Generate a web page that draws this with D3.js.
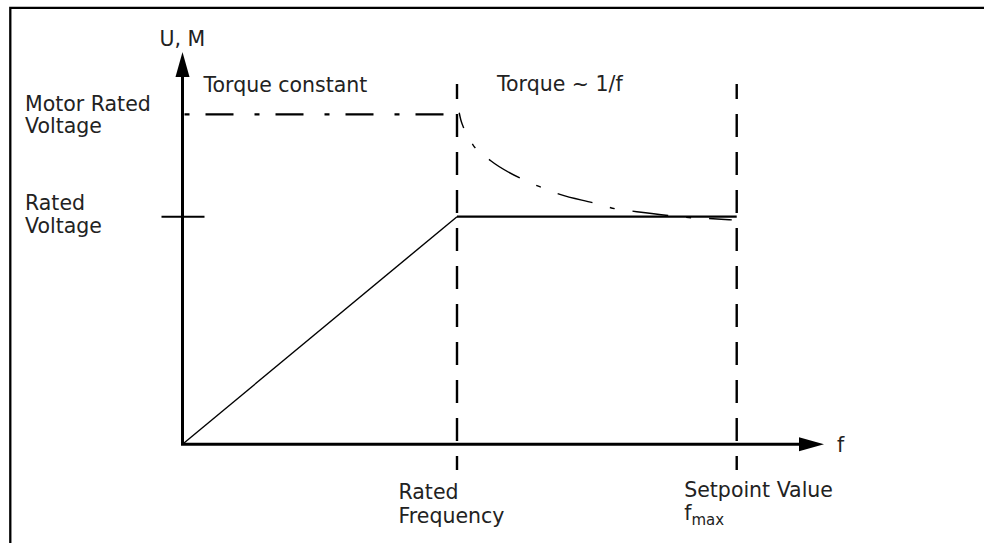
<!DOCTYPE html>
<html>
<head>
<meta charset="utf-8">
<script src="https://cdn.jsdelivr.net/npm/d3@7"></script>
<style>
  html, body { margin: 0; padding: 0; background: #fff; }
  svg { display: block; }
  text { font-family: "DejaVu Sans", sans-serif; fill: #222; }
</style>
</head>
<body>
<svg id="chart" width="984" height="543"></svg>
<script>
// Frequency in multiples of rated frequency, voltage/torque in multiples of rated voltage
const fRated = 1.0;
const fMax = 2.019;
const fAxisEnd = 2.337;
const uRated = 1.0;
const uMotorRated = 1.45;
const uAxisEnd = 1.724;
const guideSpan = [-0.113, 1.583];

// V/f characteristic: linear rise up to rated frequency, constant above
const vfCurve = [
  { f: 0, u: 0 },
  { f: fRated, u: uRated },
  { f: fMax, u: uRated }
];

// Torque characteristic in the field-weakening range (falls roughly as 1/f)
const torqueF = [1.008, 1.014, 1.025, 1.057, 1.123, 1.236, 1.305, 1.375, 1.503, 1.576, 1.655, 1.788, 1.858, 1.933, 2.001];
const torqueU = [1.457, 1.425, 1.389, 1.318, 1.246, 1.166, 1.130, 1.098, 1.059, 1.035, 1.022, 1.003, 0.995, 0.991, 0.986];

// Text labels
const axisLabelU = "U, M";
const axisLabelF = "f";
const regionLabels = ["Torque constant", "Torque ~ 1/f"];
const motorVoltageLabel = ["Motor Rated", "Voltage"];
const ratedVoltageLabel = ["Rated", "Voltage"];
const ratedFreqLabel = ["Rated", "Frequency"];
const setpointLabel = "Setpoint Value";

const svg = d3.select("#chart");

const x = d3.scaleLinear().domain([0, 1]).range([182.5, 457]);
const y = d3.scaleLinear().domain([0, 1]).range([444.2, 216.7]);

// Frame (top and left edges)
svg.append("path")
  .attr("d", `M10.3,543 V7.8 H984`)
  .attr("fill", "none").attr("stroke", "#000").attr("stroke-width", 2.3);

// Vertical guides at rated frequency and at fmax
svg.selectAll("line.guide")
  .data([fRated, fMax])
  .join("line")
  .attr("class", "guide")
  .attr("x1", d => x(d)).attr("x2", d => x(d))
  .attr("y1", y(guideSpan[1])).attr("y2", y(guideSpan[0]))
  .attr("stroke", "#000").attr("stroke-width", 2.4)
  .attr("stroke-dasharray", "23,15")
  .attr("stroke-dashoffset", 8);

// Motor rated voltage reference (dash-dot)
svg.append("line")
  .attr("x1", x(0)).attr("x2", x(fRated))
  .attr("y1", y(uMotorRated)).attr("y2", y(uMotorRated))
  .attr("stroke", "#000").attr("stroke-width", 2.4)
  .attr("stroke-dasharray", "28,21,5,16")
  .attr("stroke-dashoffset", 47);

// Torque curve (dash-dot, thin)
const torqueData = torqueF.map((f, i) => ({ f, u: torqueU[i] }));
svg.append("path")
  .datum(torqueData)
  .attr("d", d3.line().x(d => x(d.f)).y(d => y(d.u)).curve(d3.curveMonotoneX))
  .attr("fill", "none").attr("stroke", "#000").attr("stroke-width", 1.4)
  .attr("stroke-dasharray", "36,18,5,18")
  .attr("stroke-dashoffset", 20);

// V/f characteristic: thin ramp, heavier flat part
svg.append("line")
  .attr("x1", x(vfCurve[0].f)).attr("y1", y(vfCurve[0].u))
  .attr("x2", x(vfCurve[1].f)).attr("y2", y(vfCurve[1].u))
  .attr("stroke", "#000").attr("stroke-width", 1.4);
svg.append("line")
  .attr("x1", x(vfCurve[1].f)).attr("y1", y(vfCurve[1].u))
  .attr("x2", x(vfCurve[2].f)).attr("y2", y(vfCurve[2].u))
  .attr("stroke", "#000").attr("stroke-width", 2.3);

// Axes with arrowheads
svg.append("line")
  .attr("x1", x(0)).attr("y1", y(0)).attr("x2", x(0)).attr("y2", y(uAxisEnd) + 20)
  .attr("stroke", "#000").attr("stroke-width", 3);
svg.append("line")
  .attr("x1", x(0) - 1.5).attr("y1", y(0)).attr("x2", x(fAxisEnd) - 20).attr("y2", y(0))
  .attr("stroke", "#000").attr("stroke-width", 3);
svg.append("path")
  .attr("d", `M${x(0)},${y(uAxisEnd)} L${x(0) + 7},${y(uAxisEnd) + 25} L${x(0) - 7},${y(uAxisEnd) + 25} Z`)
  .attr("fill", "#000");
svg.append("path")
  .attr("d", `M${x(fAxisEnd)},${y(0)} L${x(fAxisEnd) - 25},${y(0) - 7} L${x(fAxisEnd) - 25},${y(0) + 7} Z`)
  .attr("fill", "#000");

// Rated voltage tick across the U axis
svg.append("line")
  .attr("x1", x(0) - 21).attr("x2", x(0) + 22)
  .attr("y1", y(uRated)).attr("y2", y(uRated))
  .attr("stroke", "#000").attr("stroke-width", 2);

// Labels
const fs = 20.5;
function multiline(lines, tx, ty, lh) {
  const t = svg.append("text").attr("x", tx).attr("y", ty).style("font-size", fs + "px");
  lines.forEach((s, i) => t.append("tspan").attr("x", tx).attr("dy", i === 0 ? 0 : lh).text(s));
  return t;
}
svg.append("text").attr("x", x(0) - 23).attr("y", 46).style("font-size", fs + "px").text(axisLabelU);
svg.append("text").attr("x", x(fAxisEnd) + 13).attr("y", y(0) + 8).style("font-size", fs + "px").text(axisLabelF);
svg.append("text").attr("x", x(0) + 21).attr("y", 91.7).style("font-size", fs + "px").text(regionLabels[0]);
svg.append("text").attr("x", x(fRated) + 40).attr("y", 90.7).style("font-size", fs + "px").text(regionLabels[1]);
multiline(motorVoltageLabel, 25, 110.5, 22.5);
multiline(ratedVoltageLabel, 25, 210, 22.5);
multiline(ratedFreqLabel, x(fRated) - 58.5, 499.3, 23.4);
svg.append("text").attr("x", x(fMax) - 52.5).attr("y", 496.7).style("font-size", fs + "px").text(setpointLabel);
const fm = svg.append("text").attr("x", x(fMax) - 52.5).attr("y", 519.5).style("font-size", fs + "px");
fm.append("tspan").text("f");
fm.append("tspan").attr("dy", 5.5).style("font-size", "15px").text("max");
</script>
</body>
</html>
